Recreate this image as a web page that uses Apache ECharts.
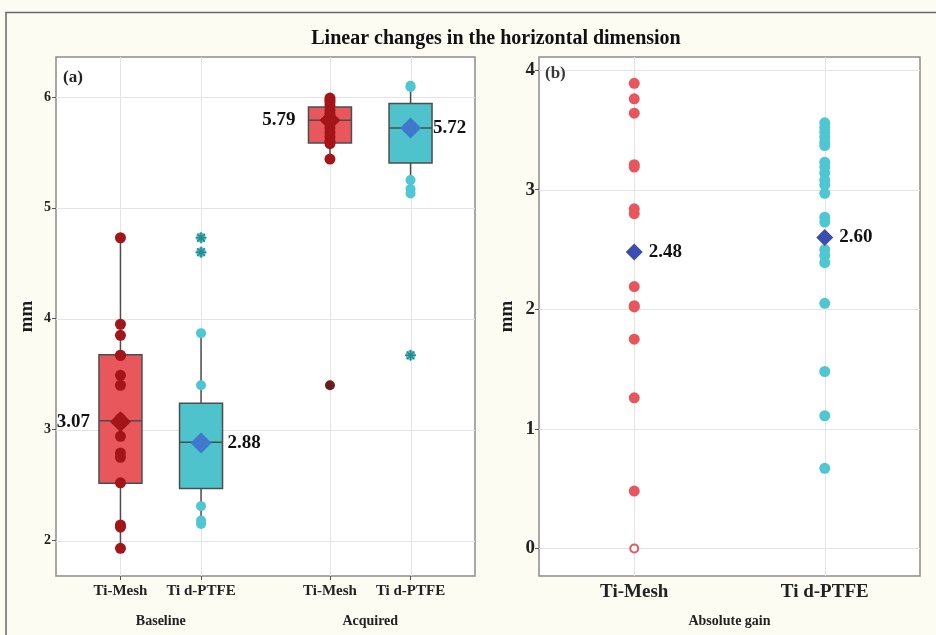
<!DOCTYPE html>
<html>
<head>
<meta charset="utf-8">
<script src="https://cdn.jsdelivr.net/npm/echarts@6/dist/echarts.min.js"></script>
<style>
html,body{margin:0;padding:0;background:#fcfcf3;}
#c{width:936px;height:635px;}
</style>
</head>
<body>
<div id="c"></div>
<script>
// ---------- data ----------
const titleText = 'Linear changes in the horizontal dimension';
const panelAPositions = [1, 2, 3.6, 4.6];
const panelATickLabels = ['Ti-Mesh', 'Ti d-PTFE', 'Ti-Mesh', 'Ti d-PTFE'];
const groupPositions = [1.5, 4.1];
const groupNames = ['Baseline', 'Acquired'];
const panelAYTicks = [2, 3, 4, 5, 6];
const panelBYTicks = [0, 1, 2, 3, 4];
const panelBCategories = ['Ti-Mesh', 'Ti d-PTFE'];
const panelBPositions = [1, 2];
const panelBGroupName = 'Absolute gain';

// box stats: [position, lowerWhisker, Q1, median, Q3, upperWhisker]
const boxMesh = [[1, 1.925, 2.516, 3.08, 3.675, 4.73], [3.6, 5.44, 5.584, 5.79, 5.91, 5.99]];
const boxPTFE = [[2, 2.16, 2.47, 2.886, 3.237, 3.867], [4.6, 5.25, 5.405, 5.72, 5.94, 6.10]];

const baseMeshPts = [4.73, 3.95, 3.85, 3.67, 3.67, 3.49, 3.40, 3.10, 3.05, 2.94, 2.79, 2.75, 2.52, 2.14, 2.12, 1.93];
const basePTFEPts = [3.87, 3.40, 2.31, 2.18, 2.15];
const basePTFEOutliers = [4.73, 4.60];
const acqMeshPts = [5.99, 5.97, 5.95, 5.92, 5.88, 5.85, 5.82, 5.80, 5.76, 5.72, 5.68, 5.64, 5.60, 5.58, 5.44];
const acqMeshOutliers = [3.40];
const acqPTFEPts = [6.10, 6.09, 5.25, 5.17, 5.13];
const acqPTFEOutliers = [3.67];
const meansA = [3.07, 2.88, 5.79, 5.72];

const gainMesh = [3.89, 3.76, 3.64, 3.21, 3.19, 2.84, 2.80, 2.19, 2.03, 2.02, 1.75, 1.26, 0.48];
const gainMeshZero = [0];
const gainPTFE = [3.56, 3.52, 3.48, 3.44, 3.40, 3.37, 3.23, 3.19, 3.14, 3.08, 3.04, 2.97, 2.77, 2.73, 2.50, 2.45, 2.39, 2.05, 1.48, 1.11, 0.67];
const meansB = [2.48, 2.60];

// ---------- styles ----------
const SERIF = '"Liberation Serif", "DejaVu Serif", serif';
const RED = '#e8575b', CYAN = '#4ec3cc', DARKRED = '#a31518', PTFEDOT = '#4fc7d2';
const GRIDC = '#e4e4e4';
const ASTER = 'path://M-1.4,-10L1.4,-10L1.4,10L-1.4,10Z M-10,-1.4L10,-1.4L10,1.4L-10,1.4Z M-8.06,-6.08L-6.08,-8.06L8.06,6.08L6.08,8.06Z M6.08,-8.06L8.06,-6.08L-6.08,8.06L-8.06,6.08Z';

const chart = echarts.init(document.getElementById('c'), null, {renderer: 'canvas'});

function boxRenderer(color) {
  return function (params, api) {
    const x = api.value(0);
    const lo = api.coord([x, api.value(1)]);
    const q1 = api.coord([x, api.value(2)]);
    const md = api.coord([x, api.value(3)]);
    const q3 = api.coord([x, api.value(4)]);
    const hi = api.coord([x, api.value(5)]);
    const w = 43;
    const stroke = {stroke: '#4d4d4d', lineWidth: 1.5};
    return {
      type: 'group',
      children: [
        {type: 'line', shape: {x1: lo[0], y1: lo[1], x2: hi[0], y2: hi[1]}, style: stroke},
        {type: 'rect', shape: {x: q3[0] - w / 2, y: q3[1], width: w, height: q1[1] - q3[1]}, style: Object.assign({fill: color}, stroke)},
        {type: 'line', shape: {x1: md[0] - w / 2, y1: md[1], x2: md[0] + w / 2, y2: md[1]}, style: stroke}
      ]
    };
  };
}

// grid lines drawn through the axes' scales
function gridLines(xi, yi, xs, ys) {
  const data = xs.map(v => [v, 0]).concat(ys.map(v => [v, 1]));
  return {
    type: 'custom', xAxisIndex: xi, yAxisIndex: yi, z: 1, silent: true, data: data,
    encode: {x: -1, y: -1},
    renderItem: function (params, api) {
      const v = api.value(0);
      const cs = params.coordSys;
      const style = {stroke: GRIDC, lineWidth: 1};
      if (api.value(1) === 0) {
        const p = api.coord([v, ys[0]]);
        const x = Math.round(p[0]) + 0.5;
        return {type: 'line', shape: {x1: x, y1: cs.y, x2: x, y2: cs.y + cs.height}, style: style};
      }
      const p = api.coord([xs[0], v]);
      const y = Math.round(p[1]) + 0.5;
      return {type: 'line', shape: {x1: cs.x, y1: y, x2: cs.x + cs.width, y2: y}, style: style};
    }
  };
}

const ptsAt = (pos, arr) => arr.map(v => [pos, v]);

const labelFont = {fontFamily: SERIF, fontWeight: 'bold', color: '#111'};

const meanAItems = [
  {value: [panelAPositions[0], meansA[0]], itemStyle: {color: DARKRED}, label: {position: 'left', distance: 20}},
  {value: [panelAPositions[1], meansA[1]], itemStyle: {color: '#3f78cc'}, label: {position: 'right', distance: 16}},
  {value: [panelAPositions[2], meansA[2]], itemStyle: {color: DARKRED}, label: {position: 'left', distance: 24}},
  {value: [panelAPositions[3], meansA[3]], itemStyle: {color: '#3f78cc'}, label: {position: 'right', distance: 12}}
];
const meanBItems = meansB.map((m, i) => ({value: [panelBPositions[i], m]}));

const option = {
  backgroundColor: '#fcfcf3',
  animation: false,
  title: {
    text: titleText, left: 491, top: 24, textAlign: 'center',
    textStyle: {fontFamily: SERIF, fontWeight: 'bold', fontSize: 20, color: '#111'}
  },
  graphic: [
    {type: 'rect', shape: {x: 6, y: 12.5, width: 940, height: 640}, style: {fill: 'none', stroke: '#666', lineWidth: 1.5}, silent: true, z: -1},
    {type: 'text', x: 63, y: 78, style: {text: '(a)', fontFamily: SERIF, fontWeight: 'bold', fontSize: 17, fill: '#222', verticalAlign: 'middle'}, z: 10},
    {type: 'text', x: 545, y: 74, style: {text: '(b)', fontFamily: SERIF, fontWeight: 'bold', fontSize: 17, fill: '#3a3a3a', verticalAlign: 'middle'}, z: 10}
  ],
  grid: [
    {left: 56, top: 57, width: 419, height: 519, show: true, backgroundColor: '#ffffff', borderColor: '#8c8c8c', borderWidth: 1.5},
    {left: 539, top: 57, width: 381, height: 519, show: true, backgroundColor: '#ffffff', borderColor: '#8c8c8c', borderWidth: 1.5}
  ],
  xAxis: [
    {gridIndex: 0, type: 'value', position: 'bottom', min: 0.2, max: 5.4, axisLine: {show: false}, splitLine: {show: false},
     axisTick: {show: true, length: 4, customValues: panelAPositions, lineStyle: {color: '#555'}},
     axisLabel: {customValues: panelAPositions, margin: 8, fontSize: 15, ...labelFont, color: '#222',
       formatter: v => panelATickLabels[panelAPositions.indexOf(v)] || ''}},
    {gridIndex: 0, type: 'value', position: 'bottom', offset: 0, min: 0.2, max: 5.4, axisLine: {show: false}, splitLine: {show: false}, axisTick: {show: false},
     axisLabel: {customValues: groupPositions, margin: 38, fontSize: 14, ...labelFont, color: '#222',
       formatter: v => groupNames[groupPositions.indexOf(v)] || ''}},
    {gridIndex: 1, type: 'value', position: 'bottom', min: 0.5, max: 2.5, axisLine: {show: false}, splitLine: {show: false},
     axisTick: {show: true, length: 4, customValues: panelBPositions, lineStyle: {color: '#555'}},
     axisLabel: {customValues: panelBPositions, margin: 7, fontSize: 19, ...labelFont, color: '#222',
       formatter: v => panelBCategories[panelBPositions.indexOf(v)] || ''}},
    {gridIndex: 1, type: 'value', position: 'bottom', offset: 0, min: 0.5, max: 2.5, axisLine: {show: false}, splitLine: {show: false}, axisTick: {show: false},
     axisLabel: {customValues: [1.5], margin: 38, fontSize: 14, ...labelFont, color: '#222', formatter: () => panelBGroupName}}
  ],
  yAxis: [
    {gridIndex: 0, type: 'value', min: 1.68, max: 6.36, axisLine: {show: false}, splitLine: {show: false},
     axisTick: {show: true, length: 4, customValues: panelAYTicks, lineStyle: {color: '#555'}},
     axisLabel: {customValues: panelAYTicks, margin: 5, fontSize: 14, ...labelFont, color: '#222'},
     name: 'mm', nameLocation: 'middle', nameGap: 19,
     nameTextStyle: {fontFamily: SERIF, fontWeight: 'bold', fontSize: 19, color: '#1a1a1a'}},
    {gridIndex: 1, type: 'value', min: -0.23, max: 4.11, axisLine: {show: false}, splitLine: {show: false},
     axisTick: {show: true, length: 4, customValues: panelBYTicks, lineStyle: {color: '#555'}},
     axisLabel: {customValues: panelBYTicks, margin: 4, fontSize: 19, ...labelFont, color: '#222'},
     name: 'mm', nameLocation: 'middle', nameGap: 22,
     nameTextStyle: {fontFamily: SERIF, fontWeight: 'bold', fontSize: 19, color: '#1a1a1a'}}
  ],
  series: [
    gridLines(0, 0, panelAPositions, panelAYTicks),
    gridLines(2, 1, panelBPositions, panelBYTicks),
    {type: 'custom', xAxisIndex: 0, yAxisIndex: 0, z: 2, renderItem: boxRenderer(RED), data: boxMesh, encode: {x: 0, y: [1, 2, 3, 4, 5]}},
    {type: 'custom', xAxisIndex: 0, yAxisIndex: 0, z: 2, renderItem: boxRenderer(CYAN), data: boxPTFE, encode: {x: 0, y: [1, 2, 3, 4, 5]}},
    {type: 'scatter', xAxisIndex: 0, yAxisIndex: 0, z: 3, symbolSize: 11, itemStyle: {color: DARKRED, opacity: 1},
     data: ptsAt(panelAPositions[0], baseMeshPts).concat(ptsAt(panelAPositions[2], acqMeshPts))},
    {type: 'scatter', xAxisIndex: 0, yAxisIndex: 0, z: 3, symbolSize: 10, itemStyle: {color: '#7e1c1c', opacity: 1},
     data: ptsAt(panelAPositions[2], acqMeshOutliers)},
    {type: 'scatter', xAxisIndex: 0, yAxisIndex: 0, z: 3, symbolSize: 10, itemStyle: {color: PTFEDOT, opacity: 1},
     data: ptsAt(panelAPositions[1], basePTFEPts).concat(ptsAt(panelAPositions[3], acqPTFEPts))
       .concat(ptsAt(panelAPositions[1], basePTFEOutliers)).concat(ptsAt(panelAPositions[3], acqPTFEOutliers))},
    {type: 'scatter', xAxisIndex: 0, yAxisIndex: 0, z: 4, symbol: ASTER, symbolKeepAspect: true, symbolSize: 11,
     itemStyle: {color: '#2a8a90', opacity: 1},
     data: ptsAt(panelAPositions[1], basePTFEOutliers).concat(ptsAt(panelAPositions[3], acqPTFEOutliers))},
    {type: 'scatter', xAxisIndex: 0, yAxisIndex: 0, z: 4, symbol: ASTER, symbolKeepAspect: true, symbolSize: 9,
     itemStyle: {color: '#5a2222', opacity: 1},
     data: ptsAt(panelAPositions[2], acqMeshOutliers)},
    {type: 'scatter', xAxisIndex: 0, yAxisIndex: 0, z: 5, symbol: 'diamond', symbolSize: 21,
     itemStyle: {opacity: 1},
     label: {show: true, fontSize: 19, ...labelFont, formatter: p => p.value[1].toFixed(2)},
     data: meanAItems},
    {type: 'scatter', xAxisIndex: 2, yAxisIndex: 1, z: 3, symbolSize: 11, itemStyle: {color: '#e9555c', opacity: 1},
     data: ptsAt(panelBPositions[0], gainMesh)},
    {type: 'scatter', xAxisIndex: 2, yAxisIndex: 1, z: 3, symbol: 'emptyCircle', symbolSize: 8,
     itemStyle: {color: '#e9555c', borderWidth: 1.5, opacity: 1},
     data: ptsAt(panelBPositions[0], gainMeshZero)},
    {type: 'scatter', xAxisIndex: 2, yAxisIndex: 1, z: 3, symbolSize: 11, itemStyle: {color: PTFEDOT, opacity: 1},
     data: ptsAt(panelBPositions[1], gainPTFE)},
    {type: 'scatter', xAxisIndex: 2, yAxisIndex: 1, z: 5, symbol: 'diamond', symbolSize: 17,
     itemStyle: {color: '#3a4db0', opacity: 1},
     label: {show: true, position: 'right', distance: 6, fontSize: 19, ...labelFont, formatter: p => p.value[1].toFixed(2)},
     data: meanBItems}
  ]
};
chart.setOption(option);
</script>
</body>
</html>
